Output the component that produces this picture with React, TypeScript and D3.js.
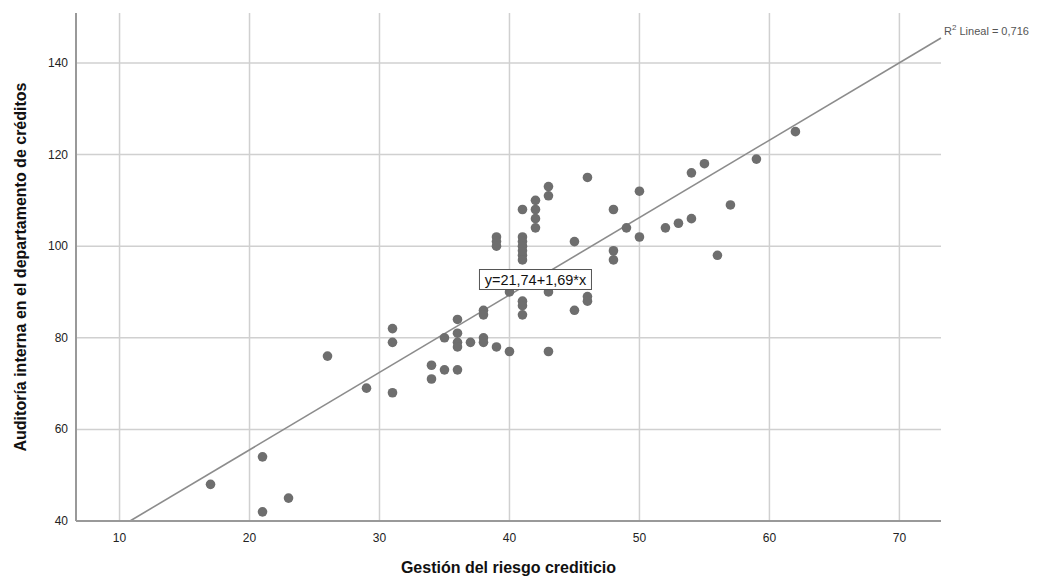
import * as d3 from "d3";

const width = 1047;
const height = 582;
const marginLeft = 76;
const marginRight = 106;
const marginTop = 13;
const marginBottom = 61;

// Gestión del riesgo crediticio (x) vs Auditoría interna (y)
const gestion = [
  17, 21, 21, 23, 26, 29, 31, 31, 31, 34, 34, 35, 35, 36, 36, 36, 36, 36, 37,
  38, 38, 38, 38, 39, 39, 39, 39, 40, 40, 41, 41, 41, 41, 41, 41, 41, 41, 41,
  41, 42, 42, 42, 42, 43, 43, 43, 43, 45, 45, 46, 46, 46, 48, 48, 48, 49, 50,
  50, 52, 53, 54, 54, 55, 56, 57, 59, 62,
];
const auditoria = [
  48, 54, 42, 45, 76, 69, 82, 79, 68, 74, 71, 80, 73, 84, 81, 79, 78, 73, 79,
  86, 85, 80, 79, 78, 102, 101, 100, 77, 90, 108, 102, 101, 100, 98, 97, 88,
  87, 85, 99, 110, 108, 106, 104, 113, 111, 90, 77, 101, 86, 115, 89, 88, 108,
  99, 97, 104, 112, 102, 104, 105, 116, 106, 118, 98, 109, 119, 125,
];

const xTicks = [10, 20, 30, 40, 50, 60, 70];
const yTicks = [40, 60, 80, 100, 120, 140];

const intercept = 21.74;
const slope = 1.69;
const equationLabel = "y=21,74+1,69*x";
const r2Label = "0,716";

const font = "'Liberation Sans', Arial, sans-serif";

const App = () => {
  const x = d3
    .scaleLinear()
    .domain([6.65, 73.2])
    .range([marginLeft, width - marginRight]);
  const y = d3
    .scaleLinear()
    .domain([40, 150.9])
    .range([height - marginBottom, marginTop]);

  const points = gestion.map((g, i) => ({ x: g, y: auditoria[i] }));

  const xStart = (y.domain()[0] - intercept) / slope;
  const xEnd = x.domain()[1];
  const fit = d3
    .line<number>()
    .x((d) => x(d))
    .y((d) => y(intercept + slope * d));

  // equation label sits on the fit line
  const eqX = 42;
  const eqY = intercept + slope * eqX;

  return (
    <svg
      width={width}
      height={height}
      style={{ position: "absolute", left: 0, top: 0, background: "#fff" }}
      fontFamily={font}
    >
      {xTicks.map((t) => (
        <line
          key={`gx${t}`}
          x1={x(t)}
          x2={x(t)}
          y1={marginTop}
          y2={height - marginBottom}
          stroke="#d0d0d0"
          strokeWidth={1.5}
        />
      ))}
      {yTicks.map((t) => (
        <line
          key={`gy${t}`}
          x1={marginLeft}
          x2={width - marginRight}
          y1={y(t)}
          y2={y(t)}
          stroke="#d0d0d0"
          strokeWidth={1.5}
        />
      ))}

      <path
        d={fit([xStart, xEnd]) as string}
        stroke="#8c8c8c"
        strokeWidth={1.6}
        fill="none"
      />

      {points.map((p, i) => (
        <circle key={i} cx={x(p.x)} cy={y(p.y)} r={4.8} fill="#6e6e6e" />
      ))}

      <line
        x1={marginLeft}
        x2={marginLeft}
        y1={marginTop}
        y2={height - marginBottom}
        stroke="#999"
        strokeWidth={2}
      />
      <line
        x1={marginLeft}
        x2={width - marginRight}
        y1={height - marginBottom}
        y2={height - marginBottom}
        stroke="#999"
        strokeWidth={2}
      />

      {xTicks.map((t) => (
        <text
          key={`tx${t}`}
          x={x(t)}
          y={height - marginBottom + 21}
          textAnchor="middle"
          fontSize={12}
          fill="#222"
        >
          {t}
        </text>
      ))}
      {yTicks.map((t) => (
        <text
          key={`ty${t}`}
          x={marginLeft - 8}
          y={y(t) + 4}
          textAnchor="end"
          fontSize={12}
          fill="#222"
        >
          {t}
        </text>
      ))}

      <text
        x={(marginLeft + width - marginRight) / 2}
        y={573}
        textAnchor="middle"
        fontSize={16}
        fontWeight="bold"
        fill="#111"
      >
        Gestión del riesgo crediticio
      </text>
      <text
        transform={`translate(26, ${(marginTop + height - marginBottom) / 2}) rotate(-90)`}
        textAnchor="middle"
        fontSize={16}
        fontWeight="bold"
        fill="#111"
      >
        Auditoría interna en el departamento de créditos
      </text>

      <g transform={`translate(${x(eqX)}, ${y(eqY)})`}>
        <rect
          x={-56}
          y={-10}
          width={112}
          height={20}
          fill="#fff"
          stroke="#555"
          strokeWidth={1}
        />
        <text x={0} y={5} textAnchor="middle" fontSize={14.5} fill="#111">
          {equationLabel}
        </text>
      </g>

      <text x={x(xEnd) + 3} y={35} fontSize={11} fill="#555">
        R<tspan dy={-5} fontSize={8}>2</tspan>
        <tspan dy={5}> Lineal = {r2Label}</tspan>
      </text>
    </svg>
  );
};

export default App;
